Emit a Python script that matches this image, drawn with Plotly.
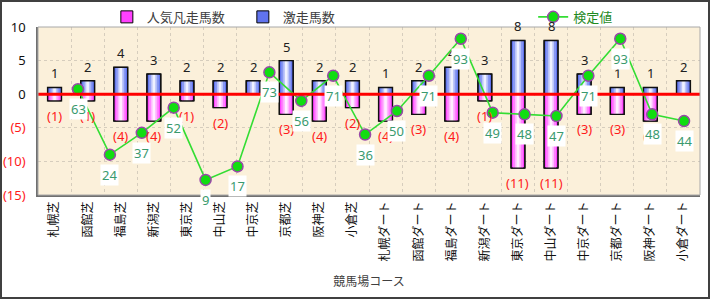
import plotly.graph_objects as go

categories = ["札幌芝", "函館芝", "福島芝", "新潟芝", "東京芝", "中山芝", "中京芝", "京都芝", "阪神芝", "小倉芝",
              "札幌ダート", "函館ダート", "福島ダート", "新潟ダート", "東京ダート", "中山ダート", "中京ダート",
              "京都ダート", "阪神ダート", "小倉ダート"]
gekisou = [1, 2, 4, 3, 2, 2, 2, 5, 2, 2, 1, 2, 4, 3, 8, 8, 3, 1, 1, 2]
ninki = [-1, -1, -4, -4, -1, -2, 0, -3, -4, -2, -4, -3, -4, -1, -11, -11, -3, -3, -4, 0]
kentei = [63, 24, 37, 52, 9, 17, 73, 56, 71, 36, 50, 71, 93, 49, 48, 47, 71, 93, 48, 44]
line_idx = list(range(len(kentei)))
ytick_vals = [10, 5, 0, -5, -10, -15]
ytick_text = ["10", "5", "0", "(5)", "(10)", "(15)"]

FONT = "Noto Sans, Noto Sans CJK JP, sans-serif"
fig = go.Figure()

widths = [0.42, 0.30, 0.18, 0.08]
series = [
    ("人気凡走馬数", ninki, ["#ff40ff", "#ff80ff", "#ffb8ff", "#ffeeff"]),
    ("激走馬数", gekisou, ["#6073ee", "#8898f3", "#bcc5f9", "#eff1ff"]),
]
for name, vals, cols in series:
    for k, (w, c) in enumerate(zip(widths, cols)):
        fig.add_trace(go.Bar(
            x=categories, y=vals, width=w, name=name,
            marker=dict(color=c, line=dict(color="black", width=1 if k == 0 else 0)),
            showlegend=(k == 0), legendgroup=name, legend="legend", hoverinfo="skip"))
    fig.add_trace(go.Bar(
        x=categories, y=vals, width=widths[0], name=name,
        marker=dict(color="rgba(0,0,0,0)", line=dict(color="#101010", width=1.4)),
        showlegend=False, legendgroup=name, hoverinfo="skip"))

fig.add_trace(go.Scatter(
    x=line_idx, y=kentei, xaxis="x2", yaxis="y2", name="検定値", mode="lines+markers",
    line=dict(color="#33dd33", width=1.6),
    marker=dict(size=11, color="#11dd11", line=dict(color="#9848a8", width=1.5)),
    legend="legend2", hoverinfo="skip"))

annotations = []
for c, v in zip(categories, gekisou):
    if v > 0:
        annotations.append(dict(x=c, y=v, xref="x", yref="y", text=str(v), showarrow=False,
                                yshift=14, font=dict(family=FONT, size=13, color="#202020")))
for c, v in zip(categories, ninki):
    if v < 0:
        annotations.append(dict(x=c, y=v, xref="x", yref="y", text="(%d)" % (-v), showarrow=False,
                                yshift=-15, font=dict(family=FONT, size=13, color="#ff1a1a")))
for i, v in zip(line_idx, kentei):
    annotations.append(dict(x=i, y=v, xref="x2", yref="y2", text=str(v), showarrow=False,
                            yshift=-20, bgcolor="white", borderpad=1,
                            font=dict(family=FONT, size=13, color="#3a9a6e")))

ticktext_col = [t if v >= 0 else "<span style='color:#ff1a1a'>%s</span>" % t
                for v, t in zip(ytick_vals, ytick_text)]

fig.update_layout(
    width=710, height=299,
    margin=dict(l=38, r=10, t=27, b=104, autoexpand=False),
    paper_bgcolor="white", plot_bgcolor="#fbf0da",
    barmode="overlay",
    font=dict(family=FONT, size=13, color="#202020"),
    annotations=annotations,
    xaxis=dict(type="category", tickson="boundaries", tickangle=-90, showgrid=True,
               gridcolor="#d6cdbd", griddash="dot", gridwidth=1, ticks="",
               showline=True, linecolor="#707070", linewidth=1.5, automargin=False,
               tickfont=dict(family=FONT, size=12, color="#101010"),
               title=dict(text="競馬場コース", standoff=17,
                          font=dict(family=FONT, size=12, color="#404040"))),
    yaxis=dict(range=[-15, 10], tickvals=ytick_vals, ticktext=ticktext_col, showgrid=True,
               gridcolor="#d6cdbd", griddash="dot", zeroline=False, ticks="",
               ticklabelstandoff=8, automargin=False,
               showline=True, linecolor="#707070", linewidth=1.5,
               tickfont=dict(family=FONT, size=13, color="#101010")),
    xaxis2=dict(overlaying="x", range=[-1.254, 19.5], visible=False),
    yaxis2=dict(overlaying="y", range=[0, 100], visible=False),
    legend=dict(orientation="h", x=0.104, xanchor="left", y=1.06, yanchor="middle",
                entrywidth=91, bgcolor="rgba(0,0,0,0)",
                font=dict(family=FONT, size=13, color="#404040")),
    legend2=dict(orientation="h", x=0.748, xanchor="left", y=1.06, yanchor="middle",
                 bgcolor="rgba(0,0,0,0)",
                 font=dict(family=FONT, size=13, color="#1f8a1f")),
    shapes=[
        dict(type="line", xref="paper", yref="y", x0=0, x1=1, y0=0, y1=0,
             line=dict(color="#ff0000", width=3), layer="above"),
        dict(type="rect", xref="paper", yref="paper", x0=0, x1=1, y0=0, y1=1,
             line=dict(color="#a8a8a8", width=1), layer="above"),
        dict(type="rect", xref="paper", yref="paper", x0=-37/662, x1=671/662,
             y0=(195-298)/168, y1=(195-1)/168,
             line=dict(color="#404040", width=2), layer="above"),
    ],
)

fig.write_html("out.html")
